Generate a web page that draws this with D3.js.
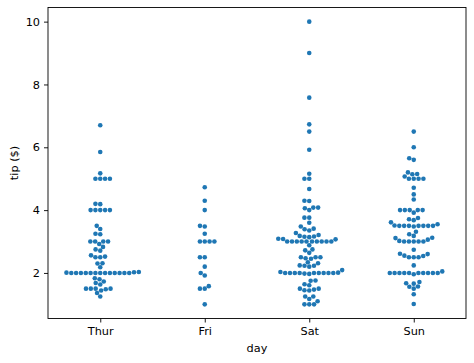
<!DOCTYPE html>
<html>
<head>
<meta charset="utf-8">
<script src="https://cdn.jsdelivr.net/npm/d3@7"></script>
<style>
  body { margin: 0; background: #fff; }
  svg text { font-family: "DejaVu Sans", sans-serif; fill: #000; }
  .axis path, .axis line { stroke: #000; stroke-width: 0.9; }
  .axis text { font-size: 11.3px; }
  .label { font-size: 11.3px; }
</style>
</head>
<body>
<div id="chart"></div>
<script>
// tips dataset, tip ($) by day, in dataset order
let days = ["Thur", "Fri", "Sat", "Sun"]
let yTicks = [2, 4, 6, 8, 10]

let thurTips = [4.00, 3.00, 2.71, 3.00, 3.40, 1.83, 5.00, 2.03, 5.17, 2.00, 4.00, 5.85, 3.00,
  1.50, 1.80, 2.92, 2.31, 1.68, 2.50, 2.00, 2.52, 4.20, 1.48, 2.00, 2.00, 2.18, 1.50, 2.83,
  1.50, 2.00, 3.25, 1.25, 2.00, 2.00, 2.00, 2.75, 3.50, 6.70, 5.00, 5.00, 2.30, 1.50, 1.36,
  1.63, 1.73, 2.00, 4.19, 2.56, 2.02, 4.00, 1.44, 2.00, 5.00, 2.00, 2.00, 4.00, 2.01, 2.00,
  2.50, 4.00, 3.23, 3.00]
let friTips = [3.00, 3.50, 1.00, 4.30, 3.25, 4.73, 4.00, 1.50, 3.00, 1.50, 2.50, 3.00,
  2.20, 3.48, 1.92, 3.00, 1.58, 2.50, 2.00]
let satTips = [3.35, 4.08, 2.75, 2.23, 7.58, 3.18, 2.34, 2.00, 2.00, 4.30, 3.00, 1.45, 2.50,
  3.00, 2.45, 3.27, 3.60, 2.00, 3.07, 2.31, 5.00, 2.24, 3.00, 1.50, 1.76, 6.73, 3.21, 2.00,
  1.98, 3.76, 2.64, 3.15, 2.47, 1.00, 2.01, 2.09, 1.97, 3.00, 3.14, 5.00, 2.20, 1.25, 3.08,
  2.50, 3.48, 4.08, 1.64, 4.06, 4.29, 3.76, 4.00, 3.00, 1.00, 1.61, 2.00, 10.00, 3.16, 3.41,
  3.00, 2.03, 2.23, 2.00, 5.16, 9.00, 2.50, 6.50, 1.10, 3.00, 1.50, 1.44, 3.09, 3.00, 2.72,
  2.88, 2.00, 3.00, 3.39, 1.47, 3.00, 1.25, 1.00, 1.17, 4.67, 5.92, 2.00, 2.00, 1.75]
let sunTips = [1.01, 1.66, 3.50, 3.31, 3.61, 4.71, 2.00, 3.12, 1.96, 3.23, 1.71, 5.00, 1.57,
  3.00, 3.02, 3.92, 1.67, 3.71, 3.50, 2.54, 3.06, 1.32, 5.60, 3.00, 5.00, 6.00, 2.05, 3.00,
  2.50, 2.60, 5.20, 1.56, 4.34, 3.51, 4.00, 2.55, 4.00, 3.50, 5.07, 2.50, 2.00, 2.74, 2.00,
  2.00, 5.14, 5.00, 3.75, 2.61, 2.00, 3.50, 2.50, 2.00, 2.00, 3.00, 3.48, 2.24, 4.50, 5.15,
  3.18, 4.00, 3.11, 2.00, 2.00, 4.00, 3.55, 3.68, 5.65, 3.50, 6.50, 3.00, 5.00, 3.50, 2.00,
  3.50, 4.00, 1.50]

let tipsByDay = [thurTips, friTips, satTips, sunTips]

let width = 474
let height = 363
let margin = {top: 7.5, right: 8, bottom: 44.5, left: 48}
let w = width - margin.left - margin.right
let h = height - margin.top - margin.bottom
let r = 2.3
let color = "#1f77b4"

let svg = d3.select("#chart").append("svg")
  .attr("width", width)
  .attr("height", height)

let g = svg.append("g")
  .attr("transform", "translate(" + margin.left + "," + margin.top + ")")

let xScale = d3.scaleLinear().domain([-0.5, days.length - 0.5]).range([0, w])
let yScale = d3.scaleLinear().domain([0.55, 10.45]).range([h, 0])

// seaborn-like beeswarm: sort by value, put each point at the candidate
// closest to the midline that doesn't overlap its neighbours
function beeswarm(values, cx) {
  let pts = values.map(v => ({v: v, x: cx, y: yScale(v)}))
  pts.sort((a, b) => a.v - b.v)
  let swarm = [pts[0]]
  for (let i = 1; i < pts.length; i++) {
    let p = pts[i]
    let neighbors = []
    for (let j = swarm.length - 1; j >= 0; j--) {
      if (swarm[j].y - p.y < 2 * r) neighbors.push(swarm[j])
      else break
    }
    let cands = [cx]
    let leftFirst = true
    neighbors.forEach(n => {
      let dy = n.y - p.y
      let dx = Math.sqrt(Math.max(4 * r * r - dy * dy, 0)) * 1.05
      if (leftFirst) cands.push(n.x - dx, n.x + dx)
      else cands.push(n.x + dx, n.x - dx)
      leftFirst = !leftFirst
    })
    cands = cands.map((c, k) => ({c: c, k: k}))
      .sort((a, b) => Math.abs(a.c - cx) - Math.abs(b.c - cx) || a.k - b.k)
    for (let c of cands) {
      let ok = neighbors.every(n => (n.x - c.c) ** 2 + (n.y - p.y) ** 2 >= 4 * r * r - 1e-9)
      if (ok) { p.x = c.c; break }
    }
    swarm.push(p)
  }
  // gutter like seaborn
  let half = 0.4 * (xScale(1) - xScale(0))
  swarm.forEach(p => { p.x = Math.max(cx - half, Math.min(cx + half, p.x)) })
  return swarm
}

tipsByDay.forEach((vals, i) => {
  let pts = beeswarm(vals, xScale(i))
  g.append("g").selectAll("circle")
    .data(pts)
    .join("circle")
    .attr("cx", d => d.x)
    .attr("cy", d => d.y)
    .attr("r", r)
    .attr("fill", color)
})

g.append("g")
  .attr("class", "axis")
  .attr("transform", "translate(0," + h + ")")
  .call(d3.axisBottom(xScale).tickValues(d3.range(days.length))
    .tickFormat(i => days[i]).tickSize(4).tickPadding(4).tickSizeOuter(0))

g.append("g")
  .attr("class", "axis")
  .call(d3.axisLeft(yScale).tickValues(yTicks).tickFormat(d3.format("d"))
    .tickSize(4).tickPadding(4).tickSizeOuter(0))

g.selectAll(".axis .domain").remove()

// frame
g.append("rect")
  .attr("width", w)
  .attr("height", h)
  .attr("fill", "none")
  .attr("stroke", "#000")
  .attr("stroke-width", 0.9)

svg.append("text")
  .attr("class", "label")
  .attr("text-anchor", "middle")
  .attr("x", margin.left + w / 2)
  .attr("y", 352)
  .text("day")

svg.append("text")
  .attr("class", "label")
  .attr("text-anchor", "middle")
  .attr("transform", "translate(18," + (margin.top + h / 2) + ") rotate(-90)")
  .text("tip ($)")
</script>
</body>
</html>
